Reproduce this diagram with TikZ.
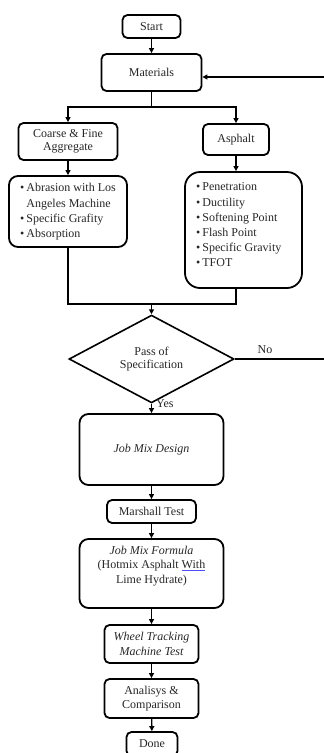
\documentclass[tikz,border=0pt]{standalone}
\usepackage{fontspec}
\setmainfont{Liberation Serif}
\usetikzlibrary{arrows.meta,shapes.geometric}
\begin{document}
\begin{tikzpicture}[x=1pt,y=-1pt,
  font=\fontsize{12}{14.5}\selectfont,
  box/.style={draw, line width=1.8pt, rounded corners=5pt, align=center, inner sep=0pt, text=black!85},
  conn/.style={line width=1.4pt},
  arr/.style={conn, -{Triangle[length=5pt,width=5pt]}},
  lbl/.style={inner sep=0pt, text=black!85}]
\useasboundingbox (0,0) rectangle (324,753);
\node[box, minimum width=58pt, minimum height=23pt] (start) at (151.5,26.5) {Start};
\node[box, minimum width=100pt, minimum height=37pt] (mat) at (151.5,72.5) {Materials};
\node[box, minimum width=99pt, minimum height=37pt] (coarse) at (68,141.5) {Coarse \& Fine\\[-1pt]Aggregate};
\node[box, minimum width=66pt, minimum height=31pt] (asph) at (236,139.5) {Asphalt};
\node[box, rounded corners=9pt, minimum width=118pt, minimum height=71pt] (cbul) at (68,211.5) {};
\node[lbl, align=left, font=\fontsize{12}{15.3}\selectfont] (cbult) at (68,212) {\textbullet\,Abrasion with Los\\\hphantom{\textbullet\,}Angeles Machine\\\textbullet\,Specific Grafity\\\textbullet\,Absorption};
\node[box, rounded corners=15pt, minimum width=117pt, minimum height=116pt] (abul) at (243.5,230) {};
\node[lbl, align=left, anchor=west, font=\fontsize{12}{15.2}\selectfont] (abult) at (196,225) {\textbullet\,Penetration\\\textbullet\,Ductility\\\textbullet\,Softening Point\\\textbullet\,Flash Point\\\textbullet\,Specific Gravity\\\textbullet\,TFOT};
\node[draw, line width=1.6pt, diamond, minimum width=165pt, minimum height=79pt, inner sep=0pt, align=center, text=black!85] (dia) at (151.5,359) {Pass of\\[-1pt]Specification};
\node[box, rounded corners=9pt, minimum width=144pt, minimum height=71pt, font=\fontsize{12}{14.5}\itshape] (jmd) at (151.5,449.5) {Job Mix Design};
\node[box, minimum width=89pt, minimum height=23pt] (mar) at (151.5,511.5) {Marshall Test};
\node[box, rounded corners=9pt, minimum width=144pt, minimum height=69pt] (jmf) at (151.5,573.5) {};
\node[lbl, align=center] (jmft) at (151.5,566) {\textit{Job Mix Formula}\\(Hotmix Asphalt {\color{blue!70}\underline{\color{black!85}With}}\\Lime Hydrate)};
\node[box, minimum width=94pt, minimum height=38pt, font=\fontsize{12}{14.5}\itshape] (wheel) at (151.5,644) {Wheel Tracking\\Machine Test};
\node[box, minimum width=94pt, minimum height=39pt] (anal) at (151.5,698.5) {Analisys \&\\Comparison};
\node[box, minimum width=51pt, minimum height=24pt] (done) at (152,744) {Done};
\coordinate (j1) at (151.5,107);
\coordinate (j2) at (151.5,304);
\coordinate (ret) at (324,77);
\coordinate (noend) at (324,359);
\draw[arr] (start) -- (mat);
\draw[conn] (mat) -- (j1);
\draw[arr] (j1) -| (coarse.north);
\draw[arr] (j1) -| (asph.north);
\draw[arr] (ret) -- (ret -| mat.east);
\draw[arr] (coarse) -- (cbul);
\draw[arr] (asph.south) -- (asph.south |- abul.north);
\draw[conn] (cbul.south) |- (j2);
\draw[conn] (asph.south |- abul.south) |- (j2);
\draw[arr] (j2) -- (dia.north);
\draw[conn] (dia.east) -- (noend);
\node[lbl, anchor=base] (no) at (265,353) {No};
\draw[arr] (dia.south) -- (jmd.north);
\node[lbl, anchor=west] (yes) at (156,404) {Yes};
\draw[arr] (jmd) -- (mar);
\draw[arr] (mar) -- (jmf);
\draw[arr] (jmf) -- (wheel);
\draw[arr] (wheel) -- (anal);
\draw[arr] (anal) -- (done);
\end{tikzpicture}
\end{document}
